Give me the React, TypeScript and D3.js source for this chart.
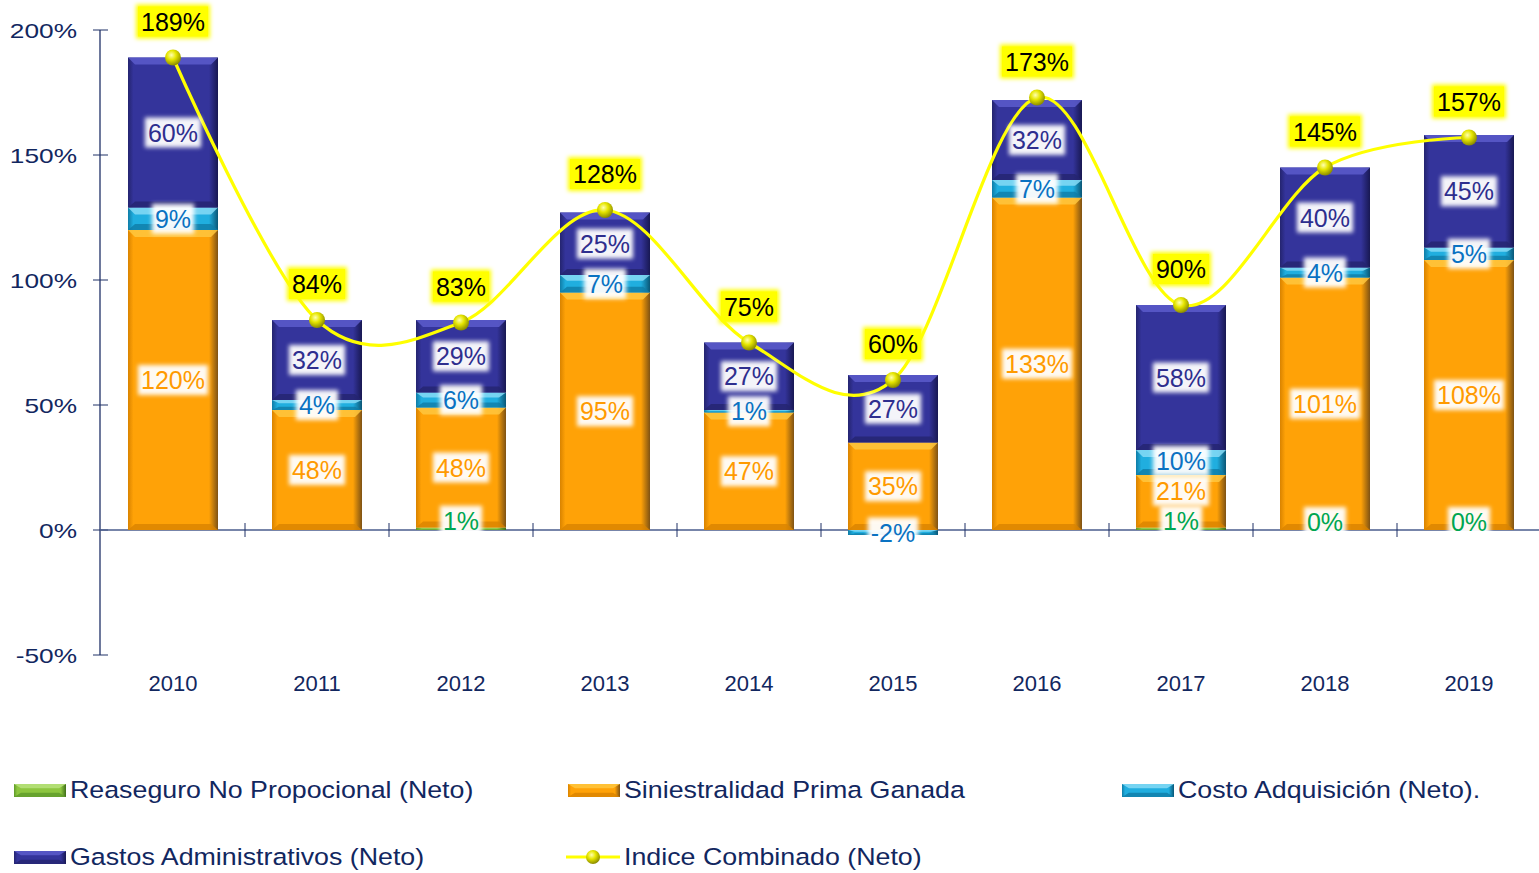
import React, { useEffect, useRef } from 'react';
import * as d3 from 'd3';

const years = ['2010', '2011', '2012', '2013', '2014', '2015', '2016', '2017', '2018', '2019'];
const reaseguro: (number | null)[] = [null, null, 1, null, null, null, null, 1, 0, 0];
const siniestralidad = [120, 48, 48, 95, 47, 35, 133, 21, 101, 108];
const costo = [9, 4, 6, 7, 1, -2, 7, 10, 4, 5];
const gastos = [60, 32, 29, 25, 27, 27, 32, 58, 40, 45];
const indice = [189, 84, 83, 128, 75, 60, 173, 90, 145, 157];
const yTicks = [-50, 0, 50, 100, 150, 200];

const seriesKeys = ['reaseguro', 'siniestralidad', 'costo', 'gastos'] as const;
const seriesNames: Record<string, string> = {
  reaseguro: 'Reaseguro No Propocional (Neto)',
  siniestralidad: 'Siniestralidad Prima Ganada',
  costo: 'Costo Adquisición (Neto).',
  gastos: 'Gastos Administrativos (Neto)',
};

interface Palette { base: string; light: string; dark: string; edge: string; text: string }
const PALETTE: Record<string, Palette> = {
  reaseguro: { base: '#8DC63F', light: '#B8E27E', dark: '#5E9A2A', edge: '#3F6E1A', text: '#00A650' },
  siniestralidad: { base: '#FFA207', light: '#FFC73E', dark: '#D98300', edge: '#7E5214', text: '#FF9A00' },
  costo: { base: '#20AEDF', light: '#86DAF6', dark: '#0F7CA6', edge: '#0A5676', text: '#0A72C2' },
  gastos: { base: '#34349B', light: '#5C5CCB', dark: '#24246F', edge: '#181852', text: '#2E2E8E' },
};

const FONT = '"Liberation Sans", Arial, sans-serif';
const AXIS_COLOR = '#1F3167';
const TEXT_COLOR = '#12275F';

const W = 1539;
const H = 873;

export default function App() {
  const svgRef = useRef<SVGSVGElement | null>(null);

  useEffect(() => {
    if (!svgRef.current) return;
    const svg = d3.select(svgRef.current);
    svg.selectAll('*').remove();

    const x = d3.scaleBand<string>().domain(years).range([101, 1541]).paddingInner(0.375).paddingOuter(0.1875);
    const y = d3.scaleLinear().domain([-50, 200]).range([655, 30]);

    const defs = svg.append('defs');
    const glow = defs.append('filter').attr('id', 'glow').attr('x', '-30%').attr('y', '-30%').attr('width', '160%').attr('height', '160%');
    glow.append('feGaussianBlur').attr('stdDeviation', 2.2);

    Object.entries(PALETTE).forEach(([k, p]) => {
      const g = defs.append('linearGradient').attr('id', `h-${k}`).attr('x1', 0).attr('x2', 1).attr('y1', 0).attr('y2', 0);
      g.append('stop').attr('offset', 0).attr('stop-color', p.dark);
      g.append('stop').attr('offset', 0.06).attr('stop-color', p.base);
      g.append('stop').attr('offset', 0.9).attr('stop-color', p.base);
      g.append('stop').attr('offset', 1).attr('stop-color', p.edge);
    });
    const ball = defs.append('radialGradient').attr('id', 'ball').attr('cx', 0.4).attr('cy', 0.35).attr('r', 0.65);
    ball.append('stop').attr('offset', 0).attr('stop-color', '#FFFFB0');
    ball.append('stop').attr('offset', 0.45).attr('stop-color', '#E6E600');
    ball.append('stop').attr('offset', 1).attr('stop-color', '#8C8C00');

    // bloque con bisel
    const bevel = (g: d3.Selection<SVGGElement, unknown, null, undefined>, key: string, bx: number, by: number, bw: number, bh: number) => {
      const p = PALETTE[key];
      if (bh <= 0) return;
      g.append('rect').attr('x', bx).attr('y', by).attr('width', bw).attr('height', bh).attr('fill', `url(#h-${key})`);
      const t = Math.min(7, bh / 3);
      const inset = Math.min(7, bw / 6);
      g.append('polygon')
        .attr('points', `${bx},${by} ${bx + bw},${by} ${bx + bw - inset},${by + t} ${bx + inset},${by + t}`)
        .attr('fill', p.light).attr('opacity', 0.85);
      const b = Math.min(6, bh / 3);
      g.append('polygon')
        .attr('points', `${bx},${by + bh} ${bx + bw},${by + bh} ${bx + bw - inset},${by + bh - b} ${bx + inset},${by + bh - b}`)
        .attr('fill', p.dark).attr('opacity', 0.8);
    };

    const table = years.map((yr, i) => ({
      year: yr,
      reaseguro: reaseguro[i] ?? 0,
      siniestralidad: siniestralidad[i],
      costo: costo[i],
      gastos: gastos[i],
    }));
    const stacked = d3.stack<any>().keys(seriesKeys as any).offset(d3.stackOffsetDiverging)(table);

    // ejes
    const axis = svg.append('g');
    axis.append('line').attr('x1', 100).attr('x2', 100).attr('y1', y(200)).attr('y2', y(-50)).attr('stroke', AXIS_COLOR).attr('stroke-width', 1.3);
    yTicks.forEach((t) => {
      axis.append('line').attr('x1', 93).attr('x2', 108).attr('y1', y(t)).attr('y2', y(t)).attr('stroke', AXIS_COLOR).attr('stroke-width', 1);
      axis.append('text')
        .attr('transform', `translate(77,${y(t)}) scale(1.25,1)`)
        .attr('text-anchor', 'end').attr('dy', '0.36em')
        .attr('font-family', FONT).attr('font-size', 21).attr('fill', TEXT_COLOR)
        .text(`${t}%`);
    });

    // barras
    const bars = svg.append('g');
    stacked.forEach((s) => {
      s.forEach((d, i) => {
        const yr = years[i];
        const top = y(Math.max(d[0], d[1]));
        const bot = y(Math.min(d[0], d[1]));
        bevel(bars as any, s.key, x(yr)!, top, x.bandwidth(), bot - top);
      });
    });

    axis.append('line').attr('x1', 100).attr('x2', 1539).attr('y1', y(0)).attr('y2', y(0)).attr('stroke', '#4A5C8C').attr('stroke-width', 1.3);
    years.slice(1).forEach((yr) => {
      const tx = x(yr)! - x.step() * x.paddingInner() / 2;
      axis.append('line').attr('x1', tx).attr('x2', tx).attr('y1', y(0) - 7).attr('y2', y(0) + 7).attr('stroke', AXIS_COLOR).attr('stroke-width', 1);
    });
    years.forEach((yr) => {
      axis.append('text')
        .attr('x', x(yr)! + x.bandwidth() / 2).attr('y', 683).attr('dy', '0.36em')
        .attr('text-anchor', 'middle').attr('font-family', FONT).attr('font-size', 22).attr('fill', TEXT_COLOR)
        .text(yr);
    });

    // línea del índice combinado
    const cx = (i: number) => x(years[i])! + x.bandwidth() / 2;
    const line = d3.line<number>().x((_, i) => cx(i)).y((v) => y(v)).curve(d3.curveCardinal.tension(0));
    svg.append('path').attr('d', line(indice)).attr('fill', 'none').attr('stroke', '#FFFF00').attr('stroke-width', 3.2);
    svg.append('g').selectAll('circle').data(indice).enter().append('circle')
      .attr('cx', (_, i) => cx(i)).attr('cy', (v) => y(v)).attr('r', 8).attr('fill', 'url(#ball)');

    // etiquetas
    const labels = svg.append('g').attr('font-family', FONT).attr('font-size', 25);
    const addLabel = (tx: number, ty: number, txt: string, color: string, bg: string, glowBg: boolean) => {
      const grp = labels.append('g');
      const bgG = grp.append('g');
      const text = grp.append('text').attr('x', tx).attr('y', ty).attr('dy', '0.36em').attr('text-anchor', 'middle').attr('fill', color).text(txt);
      const bb = (text.node() as SVGTextElement).getBBox();
      const pw = 3;
      const ph = 1;
      if (glowBg) {
        bgG.append('rect').attr('x', bb.x - pw - 2).attr('y', bb.y - ph - 2).attr('width', bb.width + 2 * pw + 4).attr('height', bb.height + 2 * ph + 4).attr('fill', bg).attr('filter', 'url(#glow)');
      }
      bgG.append('rect').attr('x', bb.x - pw).attr('y', bb.y - ph).attr('width', bb.width + 2 * pw).attr('height', bb.height + 2 * ph).attr('fill', bg).attr('filter', glowBg ? null : 'url(#glow)').attr('opacity', glowBg ? 1 : 0.95);
    };

    years.forEach((yr, i) => {
      const items: { key: string; v: number; c: number }[] = [];
      stacked.forEach((s) => {
        const raw = s.key === 'reaseguro' ? reaseguro[i] : (table[i] as any)[s.key];
        if (raw === null || raw === undefined) return;
        const d = s[i];
        const c = (y(d[0]) + y(d[1])) / 2;
        items.push({ key: s.key, v: raw, c: s.key === 'reaseguro' ? c - 8 : c });
      });
      items.sort((a, b) => b.c - a.c);
      let prev = Infinity;
      items.forEach((it) => {
        const ly = Math.min(it.c, prev - 30);
        prev = ly;
        addLabel(x(yr)! + x.bandwidth() / 2, ly, `${it.v}%`, PALETTE[it.key].text, '#FFFFFF', false);
      });
      addLabel(cx(i), y(indice[i]) - 36, `${indice[i]}%`, '#000000', '#FFFF00', true);
    });

    // leyenda
    const legend = svg.append('g').attr('font-family', FONT);
    const legendItems = [
      { key: 'reaseguro', lx: 14, ly: 790 },
      { key: 'siniestralidad', lx: 568, ly: 790 },
      { key: 'costo', lx: 1122, ly: 790 },
      { key: 'gastos', lx: 14, ly: 857 },
    ];
    legendItems.forEach((it) => {
      bevel(legend as any, it.key, it.lx, it.ly - 6, 52, 13);
      legend.append('text')
        .attr('transform', `translate(${it.lx + 56},${it.ly}) scale(1.14,1)`)
        .attr('dy', '0.36em').attr('font-size', 23.5).attr('fill', TEXT_COLOR)
        .text(seriesNames[it.key]);
    });
    legend.append('line').attr('x1', 566).attr('x2', 620).attr('y1', 857).attr('y2', 857).attr('stroke', '#FFFF00').attr('stroke-width', 3);
    legend.append('circle').attr('cx', 593).attr('cy', 857).attr('r', 7).attr('fill', 'url(#ball)');
    legend.append('text')
      .attr('transform', `translate(624,857) scale(1.14,1)`)
      .attr('dy', '0.36em').attr('font-size', 23.5).attr('fill', TEXT_COLOR)
      .text('Indice Combinado (Neto)');
  }, []);

  return (
    <div style={{ position: 'absolute', left: 0, top: 0, width: W, height: H, background: '#fff' }}>
      <svg ref={svgRef} width={W} height={H} style={{ display: 'block' }} />
    </div>
  );
}
